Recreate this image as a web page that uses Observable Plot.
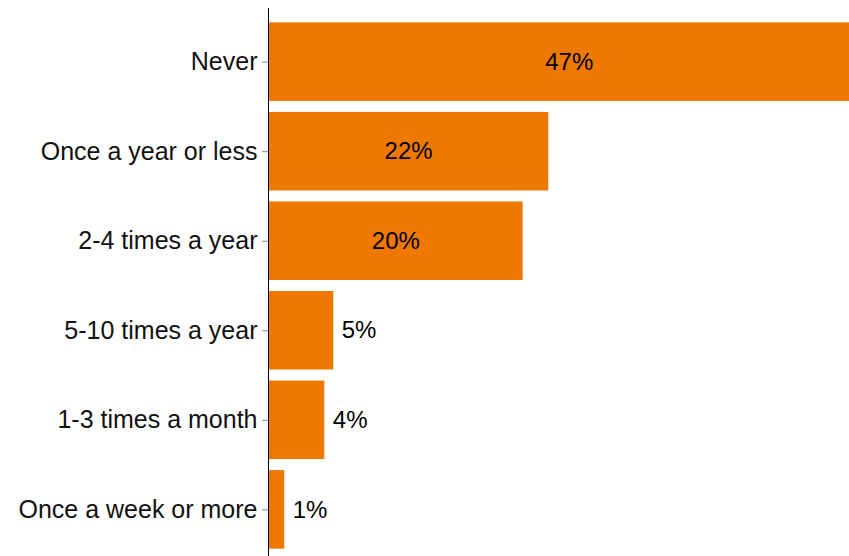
<!DOCTYPE html>
<html>
<head>
<meta charset="utf-8">
<script src="https://cdn.jsdelivr.net/npm/d3@7"></script>
<script src="https://cdn.jsdelivr.net/npm/@observablehq/plot@0.6"></script>
<style>
  html, body { margin: 0; padding: 0; background: #fff; }
  #chart svg { display: block; font-family: "Liberation Sans", Arial, sans-serif; }
</style>
</head>
<body>
<div id="chart"></div>
<script>
const categories = ["Never", "Once a year or less", "2-4 times a year", "5-10 times a year", "1-3 times a month", "Once a week or more"];
const values = [47, 21.9, 19.9, 5.1, 4.4, 1.27];
const valueLabels = ["47%", "22%", "20%", "5%", "4%", "1%"];

const data = categories.map((c, i) => ({category: c, value: values[i], label: valueLabels[i]}));
const inside = data.filter(d => d.value >= 10);
const outside = data.filter(d => d.value < 10);

const chart = Plot.plot({
  width: 849,
  height: 556,
  marginLeft: 268,
  marginRight: 0,
  marginTop: 17,
  marginBottom: 2,
  style: {fontFamily: "'Liberation Sans', Arial, sans-serif", background: "#fff"},
  x: {domain: [0, 45.4], axis: null},
  y: {domain: categories, paddingInner: 0.123, paddingOuter: 0.06, round: false, label: null},
  marks: [
    Plot.barX(data, {y: "category", x: "value", fill: "#EF7800", clip: true}),
    Plot.text(inside, {y: "category", x: d => d.value / 2, text: "label", fontSize: 24, fill: "#000", textAnchor: "middle"}),
    Plot.text(outside, {y: "category", x: "value", text: "label", fontSize: 24, fill: "#000", textAnchor: "start", dx: 8}),
    Plot.axisY({tickSize: 6, tickFormat: () => "", stroke: "#888", label: null}),
    Plot.axisY({tickSize: 0, tickPadding: 11, fontSize: 25, fill: "#111", label: null}),
    Plot.ruleX([0], {stroke: "#000", strokeWidth: 1, insetTop: -9, insetBottom: -2})
  ]
});
document.getElementById("chart").appendChild(chart);
</script>
</body>
</html>
